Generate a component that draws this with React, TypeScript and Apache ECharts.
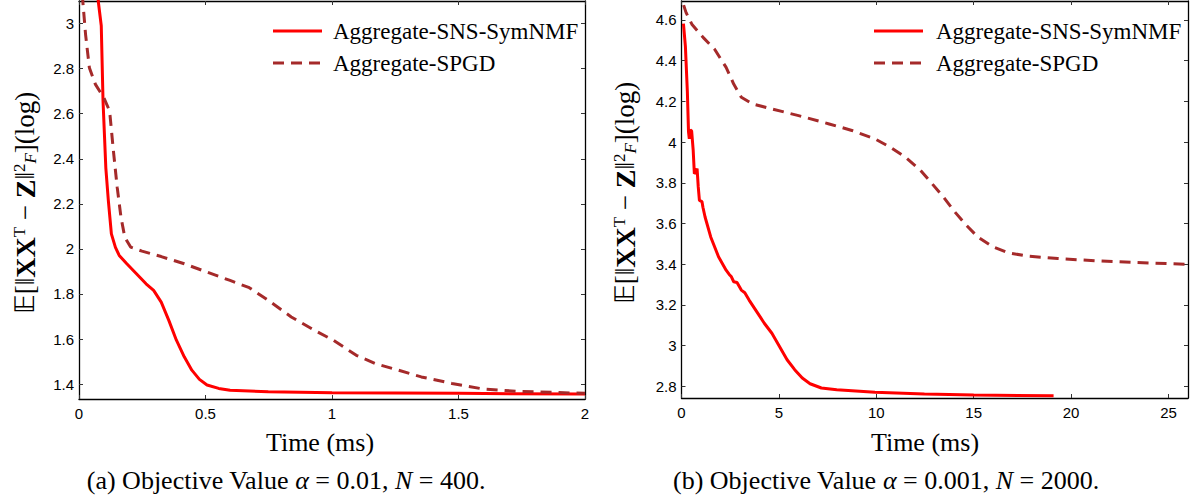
import React, { useEffect, useRef } from "react";
import * as echarts from "echarts";

// ---------- data ----------
const seriesNames = ["Aggregate-SNS-SymNMF", "Aggregate-SPGD"];

// Panel (a): alpha = 0.01, N = 400
const aSnsTime = [0.07, 0.076, 0.088, 0.095, 0.106, 0.116, 0.128, 0.144, 0.159, 0.189, 0.227, 0.265, 0.295, 0.325, 0.355, 0.385, 0.416, 0.446, 0.476, 0.506, 0.552, 0.597, 0.748, 1.0, 1.5, 2.0];
const aSnsValue = [3.35, 3.1, 2.99, 2.656, 2.36, 2.214, 2.067, 2.007, 1.971, 1.934, 1.89, 1.845, 1.816, 1.764, 1.683, 1.595, 1.521, 1.462, 1.421, 1.396, 1.381, 1.373, 1.366, 1.362, 1.359, 1.356];
const aSpgdTime = [0.0, 0.015, 0.026, 0.041, 0.065, 0.098, 0.121, 0.136, 0.151, 0.166, 0.181, 0.204, 0.249, 0.325, 0.416, 0.506, 0.597, 0.673, 0.748, 0.839, 0.93, 1.005, 1.096, 1.172, 1.262, 1.353, 1.474, 1.595, 1.731, 2.0];
const aSpgdValue = [3.45, 3.099, 2.951, 2.804, 2.73, 2.671, 2.612, 2.435, 2.273, 2.14, 2.052, 2.008, 1.99, 1.966, 1.934, 1.897, 1.86, 1.828, 1.772, 1.698, 1.639, 1.595, 1.528, 1.491, 1.462, 1.432, 1.403, 1.379, 1.368, 1.359];

// Panel (b): alpha = 0.001, N = 2000
const bSnsTime = [0.1, 0.2, 0.3, 0.36, 0.4, 0.45, 0.52, 0.6, 0.66, 0.72, 0.8, 0.86, 0.92, 1.05, 1.1, 1.21, 1.5, 1.9, 2.29, 2.45, 2.55, 2.68, 2.85, 3.07, 3.25, 3.47, 3.86, 4.25, 4.64, 5.03, 5.42, 5.81, 6.2, 6.6, 7.18, 7.97, 9.93, 12.47, 15.0, 19.1];
const bSnsValue = [4.582, 4.47, 4.25, 4.05, 4.016, 4.06, 4.055, 3.96, 3.845, 3.85, 3.87, 3.78, 3.714, 3.708, 3.68, 3.632, 3.534, 3.437, 3.371, 3.35, 3.34, 3.314, 3.31, 3.273, 3.26, 3.224, 3.167, 3.11, 3.061, 2.996, 2.931, 2.882, 2.841, 2.813, 2.792, 2.784, 2.771, 2.763, 2.758, 2.754];
const bSpgdTime = [0.0, 0.04, 0.235, 0.53, 1.12, 1.7, 2.29, 2.68, 3.07, 3.66, 4.64, 6.01, 7.58, 8.75, 9.93, 10.71, 11.49, 12.27, 12.86, 13.45, 14.03, 14.62, 15.21, 16.0, 16.78, 17.76, 19.32, 21.28, 23.24, 25.98, 26.2];
const bSpgdValue = [4.76, 4.693, 4.636, 4.579, 4.513, 4.456, 4.367, 4.285, 4.22, 4.187, 4.163, 4.13, 4.089, 4.057, 4.016, 3.975, 3.926, 3.861, 3.796, 3.73, 3.657, 3.592, 3.534, 3.485, 3.456, 3.44, 3.428, 3.417, 3.409, 3.4, 3.4];

// axis ticks
const aXTicks = [0, 0.5, 1, 1.5, 2];
const aYTicks = [1.4, 1.6, 1.8, 2, 2.2, 2.4, 2.6, 2.8, 3];
const bXTicks = [0, 5, 10, 15, 20, 25];
const bYTicks = [2.8, 3, 3.2, 3.4, 3.6, 3.8, 4, 4.2, 4.4, 4.6];

const xTitle = "Time (ms)";
const captionA = "{n|(a) Objective Value }{i|α}{n| = 0.01, }{i|N}{n| = 400.}";
const captionB = "{n|(b) Objective Value }{i|α}{n| = 0.001, }{i|N}{n| = 2000.}";

// ---------- helpers ----------
const zip = (xs: number[], ys: number[]) => xs.map((x, i) => [x, ys[i]]);

const SERIF = "Liberation Serif";
const SANS = "Liberation Sans";
const RED = "#ff0000";
const BROWN = "#a52a2a";
const DASH = [11, 7];

function xAxes(gridIndex: number, min: number, max: number, ticks: number[]) {
  const common = {
    type: "value",
    gridIndex,
    min,
    max,
    splitLine: { show: false },
    axisLine: { show: true, onZero: false, lineStyle: { color: "#000", width: 1.3 } },
  };
  return [
    {
      ...common,
      position: "bottom",
      axisTick: { show: true, inside: true, length: 4, customValues: ticks, lineStyle: { color: "#333" } },
      axisLabel: { show: true, customValues: ticks, margin: 7, color: "#000", fontFamily: SANS, fontSize: 15 },
    },
    {
      ...common,
      position: "top",
      axisTick: { show: true, inside: true, length: 4, customValues: ticks, lineStyle: { color: "#333" } },
      axisLabel: { show: false },
    },
  ];
}

function yAxes(gridIndex: number, min: number, max: number, ticks: number[]) {
  const common = {
    type: "value",
    gridIndex,
    min,
    max,
    splitLine: { show: false },
    axisLine: { show: true, onZero: false, lineStyle: { color: "#000", width: 1.3 } },
  };
  return [
    {
      ...common,
      position: "left",
      axisTick: { show: true, inside: true, length: 4, customValues: ticks, lineStyle: { color: "#333" } },
      axisLabel: { show: true, customValues: ticks, margin: 5, color: "#000", fontFamily: SANS, fontSize: 15 },
    },
    {
      ...common,
      position: "right",
      axisTick: { show: true, inside: true, length: 4, customValues: ticks, lineStyle: { color: "#333" } },
      axisLabel: { show: false },
    },
  ];
}

function lineSeries(name: string, data: number[][], xIdx: number, yIdx: number, dashed: boolean) {
  return {
    type: "line",
    name,
    data,
    xAxisIndex: xIdx,
    yAxisIndex: yIdx,
    showSymbol: false,
    symbol: "none",
    clip: true,
    lineStyle: dashed
      ? { color: BROWN, width: 3, type: DASH }
      : { color: RED, width: 3, type: "solid" },
    itemStyle: { color: dashed ? BROWN : RED },
  };
}

const yTitleRich = {
  n: { fontFamily: SERIF, fontSize: 27, fill: "#000" },
  b: { fontFamily: SERIF, fontSize: 28, fontWeight: "bold", fill: "#000" },
  sup: { fontFamily: SERIF, fontSize: 17, fill: "#000", verticalAlign: "top" },
  sub: { fontFamily: SERIF, fontSize: 17, fontStyle: "italic", fill: "#000", verticalAlign: "bottom" },
};
const yTitleText = "{n|𝔼[‖}{b|XX}{sup|T}{n| − }{b|Z}{n|‖}{sup|2}{sub|F}{n|](log)}";

const captionRich = {
  n: { fontFamily: SERIF, fontSize: 26, fill: "#000" },
  i: { fontFamily: SERIF, fontSize: 26, fontStyle: "italic", fill: "#000" },
};

function legendGraphics(lineX: number, textX: number) {
  const rows = [31, 63];
  const out: any[] = [];
  rows.forEach((y, i) => {
    out.push({
      type: "line",
      shape: { x1: lineX, y1: y, x2: lineX + 49, y2: y },
      style: i === 0 ? { stroke: RED, lineWidth: 3 } : { stroke: BROWN, lineWidth: 3, lineDash: DASH },
    });
    out.push({
      type: "text",
      x: textX,
      y,
      style: { text: seriesNames[i], fontFamily: SERIF, fontSize: 23, fill: "#000", align: "left", verticalAlign: "middle" },
    });
  });
  return out;
}

export default function App() {
  const ref = useRef<HTMLDivElement>(null);

  useEffect(() => {
    if (!ref.current) return;
    const chart = echarts.init(ref.current, null, { renderer: "svg" });

    const option = {
      animation: false,
      backgroundColor: "#fff",
      grid: [
        { left: 79, top: 1, width: 506, height: 398, containLabel: false },
        { left: 681.5, top: 1, width: 506.5, height: 397, containLabel: false },
      ],
      xAxis: [...xAxes(0, 0, 2, aXTicks), ...xAxes(1, 0, 26, bXTicks)],
      yAxis: [...yAxes(0, 1.334, 3.1, aYTicks), ...yAxes(1, 2.743, 4.693, bYTicks)],
      series: [
        lineSeries(seriesNames[0], zip(aSnsTime, aSnsValue), 0, 0, false),
        lineSeries(seriesNames[1], zip(aSpgdTime, aSpgdValue), 0, 0, true),
        lineSeries(seriesNames[0], zip(bSnsTime, bSnsValue), 2, 2, false),
        lineSeries(seriesNames[1], zip(bSpgdTime, bSpgdValue), 2, 2, true),
      ],
      graphic: [
        ...legendGraphics(273, 333),
        ...legendGraphics(874, 936),
        {
          type: "text",
          x: 25,
          y: 203,
          rotation: Math.PI / 2,
          style: { text: yTitleText, rich: yTitleRich, align: "center", verticalAlign: "middle" },
        },
        {
          type: "text",
          x: 625,
          y: 193,
          rotation: Math.PI / 2,
          style: { text: yTitleText, rich: yTitleRich, align: "center", verticalAlign: "middle" },
        },
        {
          type: "text",
          x: 320,
          y: 442,
          style: { text: xTitle, fontFamily: SERIF, fontSize: 26, fill: "#000", align: "center", verticalAlign: "middle" },
        },
        {
          type: "text",
          x: 925,
          y: 442,
          style: { text: xTitle, fontFamily: SERIF, fontSize: 26, fill: "#000", align: "center", verticalAlign: "middle" },
        },
        {
          type: "text",
          x: 286,
          y: 480,
          style: { text: captionA, rich: captionRich, align: "center", verticalAlign: "middle" },
        },
        {
          type: "text",
          x: 886,
          y: 480,
          style: { text: captionB, rich: captionRich, align: "center", verticalAlign: "middle" },
        },
      ],
    };

    chart.setOption(option as any);
    return () => chart.dispose();
  }, []);

  return (
    <div
      ref={ref}
      style={{ position: "fixed", left: 0, top: 0, width: 1199, height: 502, background: "#fff" }}
    />
  );
}
